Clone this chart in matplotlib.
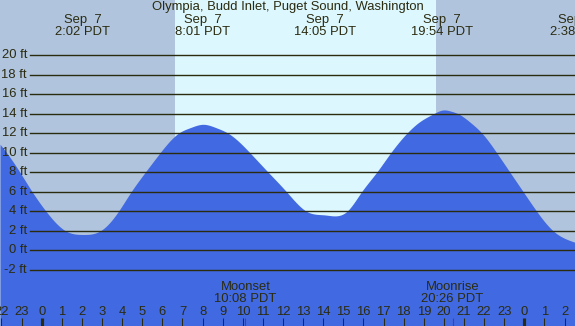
import numpy as np
import matplotlib
matplotlib.use('Agg')
import matplotlib.pyplot as plt

# tide heights (ft), hours since midnight Sep 7 (PDT)
hours = [-2.07, -1.74, -1.08, -0.47, 0.22, 1.20, 2.05, 2.90,
         3.81, 4.44, 5.14, 5.88, 6.79, 7.40, 8.03, 8.65, 9.28, 10.36,
         11.27, 12.18, 13.18, 14.09, 15.17, 15.90, 16.65, 17.35,
         18.15, 18.80, 19.47, 19.97, 20.35, 20.72, 21.30, 21.90, 22.63, 23.29,
         23.95, 24.62, 25.44, 26.52]
heights = [10.88, 10.0, 8.0, 6.0, 4.0, 2.0, 1.64, 2.0,
           4.0, 6.0, 8.0, 10.0, 12.0, 12.6, 12.93, 12.6, 12.0, 10.0,
           8.0, 6.0, 4.0, 3.64, 4.0, 6.0, 8.0, 10.0,
           12.0, 13.2, 14.0, 14.4, 14.28, 14.0, 13.15, 12.0, 10.0, 8.0,
           6.0, 4.0, 2.0, 0.84]

# highs / lows labelled at the top
ext_hours = [2.033, 8.017, 14.083, 19.9, 26.633]
ext_labels = ['Sep  7\n2:02 PDT', 'Sep  7\n8:01 PDT', 'Sep  7\n14:05 PDT',
              'Sep  7\n19:54 PDT', 'Sep  8\n2:38 PDT']

sunrise, sunset = 6.63, 19.63
moon_hours = [10.133, 20.433]
moon_labels = ['Moonset\n10:08 PDT', 'Moonrise\n20:26 PDT']

levels = list(range(-2, 21, 2))
hour_ticks = list(range(-2, 27))

title = 'Olympia, Budd Inlet, Puget Sound, Washington'

night = '#b0c4de'
day = '#dcf7fd'
water = '#4169e1'
ink = '#2b2b10'
fs = 9.4

plt.rcParams['font.family'] = ['Liberation Sans', 'DejaVu Sans']


def smooth(x, y, n=1500):
    # natural cubic spline through the read points
    x = np.asarray(x, float)
    y = np.asarray(y, float)
    k = len(x)
    h = np.diff(x)
    A = np.zeros((k, k))
    b = np.zeros(k)
    A[0, 0] = A[-1, -1] = 1.0
    for j in range(1, k - 1):
        A[j, j - 1] = h[j - 1]
        A[j, j] = 2 * (h[j - 1] + h[j])
        A[j, j + 1] = h[j]
        b[j] = 6 * ((y[j + 1] - y[j]) / h[j] - (y[j] - y[j - 1]) / h[j - 1])
    M = np.linalg.solve(A, b)
    xs = np.linspace(x[0], x[-1], n)
    i = np.clip(np.searchsorted(x, xs) - 1, 0, k - 2)
    hi = h[i]
    a = (x[i + 1] - xs) / hi
    c = (xs - x[i]) / hi
    ys = (a * y[i] + c * y[i + 1]
          + ((a**3 - a) * M[i] + (c**3 - c) * M[i + 1]) * hi**2 / 6)
    return xs, ys


fig = plt.figure(figsize=(5.75, 3.26), dpi=100)
ax = fig.add_axes([0, 0, 1, 1])
x0, x1 = -2.074, 26.52
y0, y1 = -7.74, 25.67
ax.set_xlim(x0, x1)
ax.set_ylim(y0, y1)
ax.axis('off')

ax.axvspan(x0, sunrise, color=night, lw=0, zorder=0)
ax.axvspan(sunrise, sunset, color=day, lw=0, zorder=0)
ax.axvspan(sunset, x1, color=night, lw=0, zorder=0)

xs, ys = smooth(hours, heights)
ax.fill_between(xs, ys, y0, color=water, lw=0, zorder=1)

for lv in levels:
    ax.axhline(lv, xmin=29.5 / 575, xmax=1, color=ink, lw=1.0, zorder=2)
    ax.text(27 / 575, lv, '%d ft' % lv, transform=ax.get_yaxis_transform(),
            ha='right', va='center', fontsize=fs, color=ink, zorder=3)

ax.text(0.5, 0.977, title, transform=ax.transAxes, ha='center', va='center',
        fontsize=fs, color=ink)
for h, lab in zip(ext_hours, ext_labels):
    ax.text(h, 0.92, lab, transform=ax.get_xaxis_transform(), ha='center',
            va='center', fontsize=fs, color=ink, linespacing=1.0, clip_on=False)

tr = ax.get_xaxis_transform()
for h in hour_ticks:
    ax.text(h, 0.044, str(h % 24), transform=tr, ha='center', va='center',
            fontsize=fs, color=ink)
    lw = 3.0 if h % 24 == 0 else 1.0
    ax.plot([h, h], [0, 0.025], transform=tr, color=ink, lw=lw * 0.75,
            solid_capstyle='butt')

for h, lab in zip(moon_hours, moon_labels):
    ax.text(h, 0.100, lab, transform=tr, ha='center', va='center',
            fontsize=fs, color=ink, linespacing=1.0)
    ax.plot([h, h], [0, 0.025], transform=tr, color='red', lw=0.75,
            solid_capstyle='butt')

fig.savefig('out.png', dpi=100)
